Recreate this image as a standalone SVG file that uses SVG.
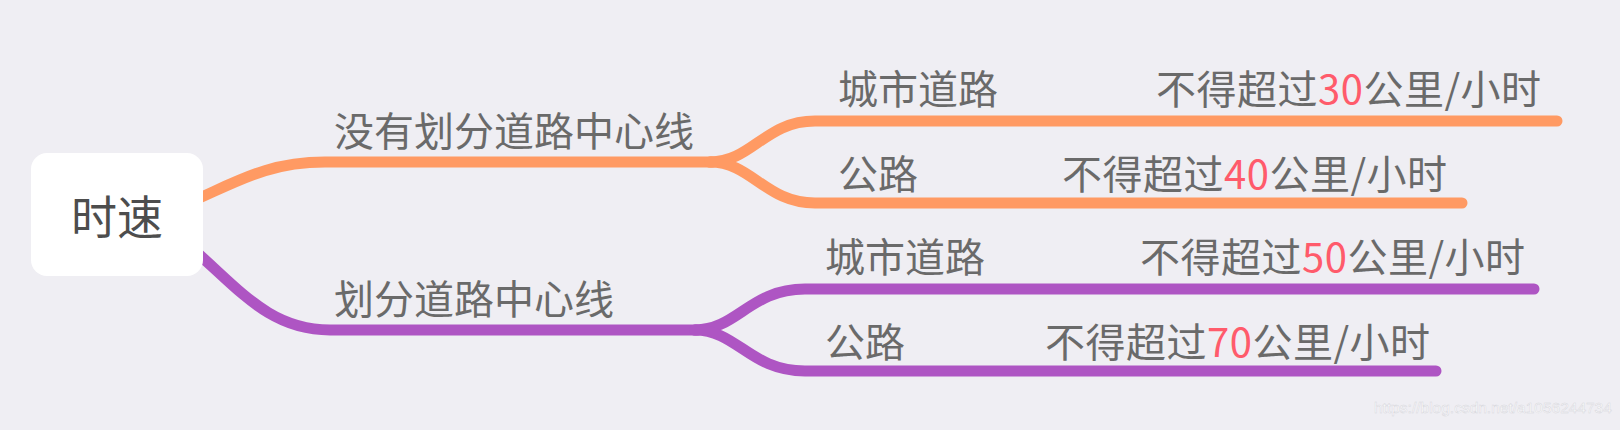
<svg xmlns="http://www.w3.org/2000/svg" width="1620" height="430" viewBox="0 0 1620 430">
<style>
.bg{fill:#EFEEF3}
.c{fill:none;stroke-width:11;stroke-linecap:round;stroke-linejoin:round}
.o{stroke:#FF9A63}
.p{stroke:#AE55C3}
.t{font-family:"Noto Sans CJK SC","Noto Sans",sans-serif;font-size:40px;fill:#6A6A6A}
.lim{letter-spacing:0.5px}
.n{fill:#FF5B6B}
.root{font-size:46px;fill:#4D4D4D}
.wm{font-family:"Liberation Sans",Arial,sans-serif;font-size:15.5px;fill:#FFFFFF;stroke:#D6D6DC;stroke-width:0.5}
</style>
<rect class="bg" x="0" y="0" width="1620" height="430"/>
<g id="connectors">
<path class="c o" d="M195,200 C240,180 270,162 325,162 L712,162"/>
<path class="c o" d="M710,162 C752,162 765,121 815,121 L1557,121"/>
<path class="c o" d="M710,162 C752,162 765,203 815,203 L1462,203"/>
<path class="c p" d="M195,251 C240,290 270,330 330,330 L697,330"/>
<path class="c p" d="M695,330 C737,330 750,289 805,289 L1534,289"/>
<path class="c p" d="M695,330 C737,330 750,371 805,371 L1436,371"/>
</g>
<g id="root">
<rect x="31" y="153" width="172" height="123" rx="16" fill="#FFFFFF"/>
<text class="t root" x="117" y="234" text-anchor="middle">时速</text>
</g>
<g id="branch-no-line">
<text class="t" x="334" y="146">没有划分道路中心线</text>
</g>
<g id="branch-line">
<text class="t" x="334" y="314">划分道路中心线</text>
</g>
<g id="o-city">
<text class="t" x="838" y="104">城市道路</text>
</g>
<g id="o-city-limit">
<text class="t lim" x="1156" y="104">不得超过<tspan class="n">30</tspan>公里/小时</text>
</g>
<g id="o-road">
<text class="t" x="838" y="189">公路</text>
</g>
<g id="o-road-limit">
<text class="t lim" x="1062" y="189">不得超过<tspan class="n">40</tspan>公里/小时</text>
</g>
<g id="p-city">
<text class="t" x="825" y="272">城市道路</text>
</g>
<g id="p-city-limit">
<text class="t lim" x="1140" y="272">不得超过<tspan class="n">50</tspan>公里/小时</text>
</g>
<g id="p-road">
<text class="t" x="825" y="357">公路</text>
</g>
<g id="p-road-limit">
<text class="t lim" x="1045" y="357">不得超过<tspan class="n">70</tspan>公里/小时</text>
</g>
<text class="wm" x="1374" y="413">https://blog.csdn.net/a1056244734</text>
</svg>
